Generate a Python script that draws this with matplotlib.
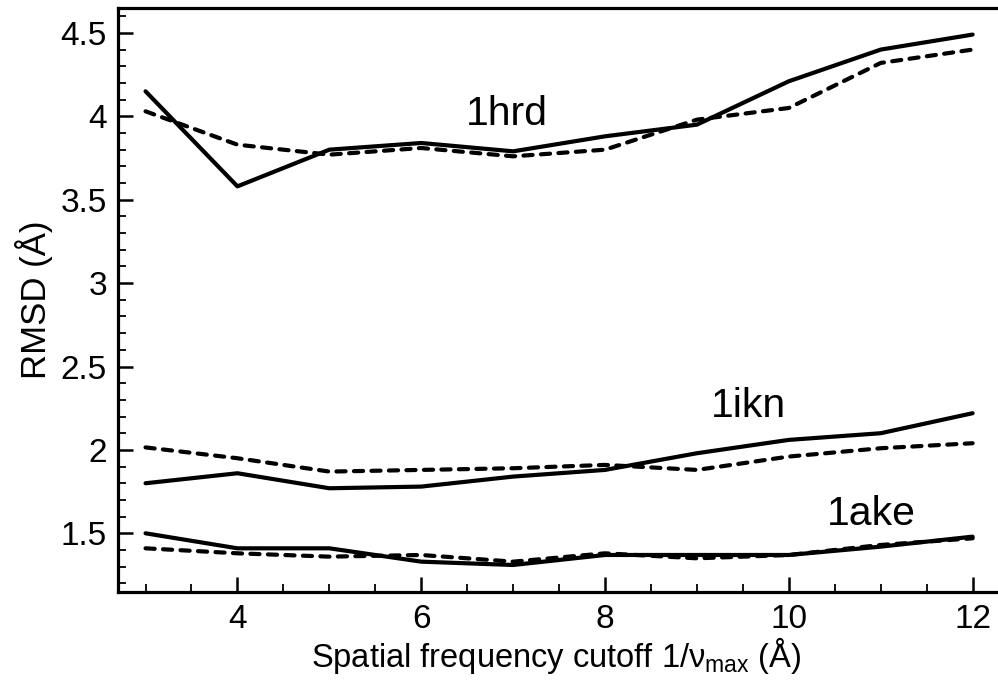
import matplotlib
matplotlib.use("Agg")
import matplotlib.pyplot as plt
from matplotlib.ticker import MultipleLocator

plt.rcParams['font.family'] = ['Liberation Sans', 'DejaVu Sans']
plt.rcParams['mathtext.fontset'] = 'custom'
plt.rcParams['mathtext.rm'] = 'Liberation Sans'
plt.rcParams['mathtext.it'] = 'Liberation Sans'

# Spatial frequency cutoff 1/nu_max (Angstrom)
cutoff = [3, 4, 5, 6, 7, 8, 9, 10, 11, 12]

# RMSD (Angstrom) per protein: solid and dashed variants
hrd_solid = [4.15, 3.58, 3.80, 3.84, 3.79, 3.88, 3.95, 4.21, 4.40, 4.49]
hrd_dashed = [4.03, 3.83, 3.77, 3.81, 3.76, 3.80, 3.98, 4.05, 4.32, 4.40]
ikn_solid = [1.80, 1.86, 1.77, 1.78, 1.84, 1.88, 1.98, 2.06, 2.10, 2.22]
ikn_dashed = [2.015, 1.95, 1.87, 1.88, 1.89, 1.91, 1.88, 1.96, 2.01, 2.04]
ake_solid = [1.50, 1.41, 1.41, 1.33, 1.31, 1.37, 1.37, 1.37, 1.42, 1.48]
ake_dashed = [1.41, 1.38, 1.36, 1.37, 1.33, 1.38, 1.35, 1.37, 1.43, 1.47]

labels = ["1hrd", "1ikn", "1ake"]
label_x = [6.93, 9.56, 10.90]
label_y = [3.95, 2.195, 1.549]

fig = plt.figure(figsize=(9.98, 6.86), dpi=100)
ax = fig.add_axes([0.1182, 0.1375, 0.884, 0.851])

lw = 3.0
dash = (0, (2.2, 2.0))
for solid, dashed in [(hrd_solid, hrd_dashed), (ikn_solid, ikn_dashed), (ake_solid, ake_dashed)]:
    ax.plot(cutoff, solid, color='black', lw=lw, solid_capstyle='round', solid_joinstyle='round')
    ax.plot(cutoff, dashed, color='black', lw=lw, linestyle=dash, dash_capstyle='round')

for t, x, y in zip(labels, label_x, label_y):
    ax.text(x, y, t, fontsize=29.5, ha='center', va='baseline')

ax.set_xlim(2.7, 12.3)
ax.set_ylim(1.15, 4.65)
ax.xaxis.set_major_locator(MultipleLocator(2))
ax.xaxis.set_minor_locator(MultipleLocator(0.5))
ax.yaxis.set_minor_locator(MultipleLocator(0.1))
ax.set_yticks([1.5, 2, 2.5, 3, 3.5, 4, 4.5])
ax.set_yticklabels(["1.5", "2", "2.5", "3", "3.5", "4", "4.5"])

ax.tick_params(which='major', direction='in', length=11, width=1.8, labelsize=24)
ax.tick_params(which='minor', direction='in', length=5.8, width=1.3)
ax.tick_params(axis='x', which='major', pad=9)
ax.tick_params(axis='y', which='major', pad=8)

for s in ['left', 'bottom', 'top']:
    ax.spines[s].set_linewidth(2.3)
ax.spines['right'].set_visible(False)

ax.text(0.4966, -0.129, "Spatial frequency cutoff 1/$\\nu_{\\mathrm{max}}$ (Å)",
        transform=ax.transAxes, fontsize=23.5, ha='center', va='baseline')
ax.text(-0.0952, 0.4997, "RMSD (Å)", transform=ax.transAxes, fontsize=25,
        rotation=90, rotation_mode='anchor', ha='center', va='center')

fig.savefig("out.png", dpi=100)
